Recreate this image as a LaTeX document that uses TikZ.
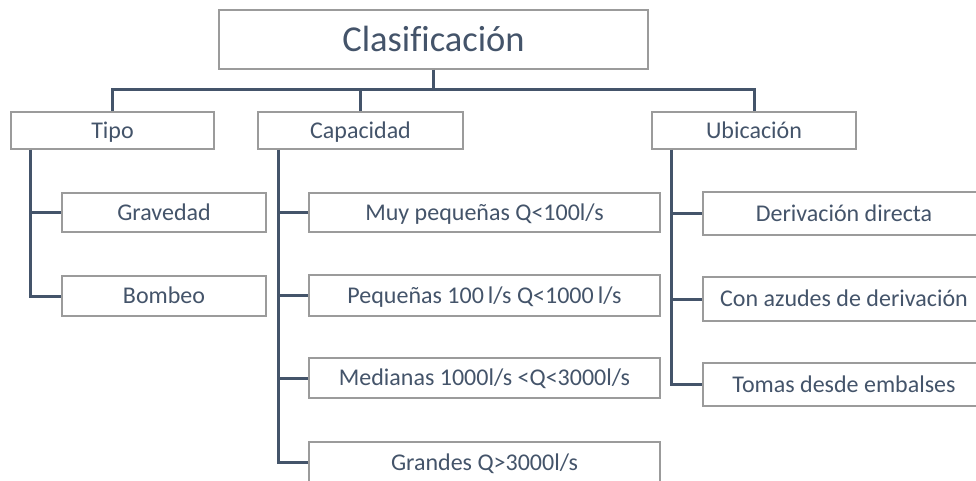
\documentclass[tikz,border=0pt]{standalone}
\usepackage{fontspec}
\setmainfont[Ligatures=CommonOff]{Carlito}
\usetikzlibrary{positioning}
\tikzset{box/.style = {draw=mgrey, fill=white, line width=1.5, text=mslate, inner sep=0,
                       text height=15.5pt, text depth=0pt, font=\fontsize{24}{28}\selectfont}}
\tikzset{link/.style = {draw=mslate, line width=3}}
\definecolor{mslate}{RGB}{68, 84, 106}
\definecolor{mgrey}{RGB}{155, 155, 155}

\begin{document}
\begin{tikzpicture}[x=1pt, y=-1pt]
    \useasboundingbox (0, 0) rectangle (976, 481);
    \clip (0, 0) rectangle (976, 481);

    \node [box, minimum width=429, minimum height=59, text height=23.5pt, font=\fontsize{36.5}{40}\selectfont] (root) at (433.5, 39.5) {Clasificación};

    \node [box, minimum width=203, minimum height=37] (tipo) at (112.5, 130.5) {Tipo};
    \node [box, minimum width=205, minimum height=37] (capac) at (360.5, 130.5) {Capacidad};
    \node [box, minimum width=204, minimum height=37] (ubic) at (754, 130.5) {Ubicación};

    % tipo
    \node [box, minimum width=204, minimum height=39] (grav) at (164, 212.5) {Gravedad};
    \node [box, minimum width=204, minimum height=40] (bomb) at (164, 296) {Bombeo};

    % capacidad
    \node [box, minimum width=351, minimum height=39] (muy) at (484.5, 212.5) {Muy pequeñas Q<100l/s};
    \node [box, minimum width=351, minimum height=41] (peq) at (484.5, 295.5) {Pequeñas 100\,l/s Q<1000\,l/s};
    \node [box, minimum width=351, minimum height=40] (med) at (484.5, 378) {Medianas 1000l/s <Q<3000l/s};
    \node [box, minimum width=351, minimum height=41] (gra) at (484.5, 462.5) {Grandes Q>3000l/s};

    % ubicacion
    \node [box, minimum width=282, minimum height=43] (deriv) at (844, 213.5) {Derivación directa};
    \node [box, minimum width=282, minimum height=44] (azud) at (844, 299) {Con azudes de derivación};
    \node [box, minimum width=282, minimum height=43] (tomas) at (844, 384.5) {Tomas desde embalses};

    \coordinate (bus) at (433.5, 90);
    \draw [link] (root.south) -- (bus);
    \draw [link] (tipo.north) |- (bus) -| (ubic.north);
    \draw [link] (capac.north) -- (capac.north |- bus);

    \coordinate (tsp) at ([xshift=20pt]tipo.south west);
    \draw [link] (tsp) |- (bomb.west);
    \draw [link] (tsp |- grav.west) -- (grav.west);

    \coordinate (csp) at ([xshift=21pt]capac.south west);
    \draw [link] (csp) |- (gra.west);
    \draw [link] (csp |- muy.west) -- (muy.west);
    \draw [link] (csp |- peq.west) -- (peq.west);
    \draw [link] (csp |- med.west) -- (med.west);

    \coordinate (usp) at ([xshift=20pt]ubic.south west);
    \draw [link] (usp) |- (tomas.west);
    \draw [link] (usp |- deriv.west) -- (deriv.west);
    \draw [link] (usp |- azud.west) -- (azud.west);
\end{tikzpicture}
\end{document}
